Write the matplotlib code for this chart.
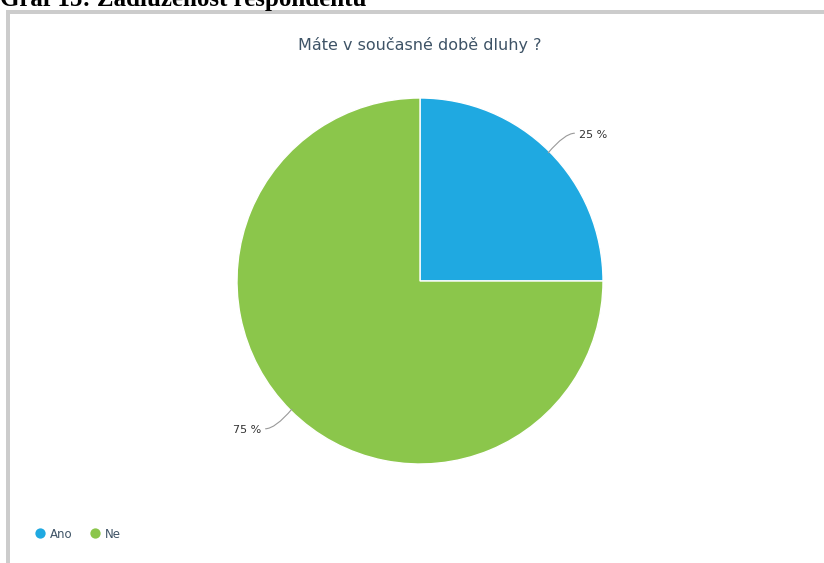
import numpy as np
import matplotlib.pyplot as plt
from matplotlib.patches import Rectangle, PathPatch
from matplotlib.path import Path

# data
labels = ['Ano', 'Ne']
values = [25, 75]
colors = ['#1fa9e1', '#8bc64b']
pct_labels = ['25 %', '75 %']

title = 'Máte v současné době dluhy ?'
caption = 'Graf 15: Zadluženost respondentů'

W, H = 824, 563
fig = plt.figure(figsize=(W / 100, H / 100), dpi=100)
ax = fig.add_axes([0, 0, 1, 1])
ax.set_xlim(0, W)
ax.set_ylim(0, H)
ax.axis('off')

# grey frame of the embedded chart (top and left border)
ax.add_patch(Rectangle((6, 549), W, 4, color='#cccccc', lw=0))
ax.add_patch(Rectangle((6, 0), 4, 553, color='#cccccc', lw=0))

# caption, cut at the top edge like in the source document
ax.text(0, 557, caption, fontsize=18, fontweight='bold', family='Liberation Serif',
        ha='left', va='baseline', color='black', clip_on=False)

cx, cy, r = 420, 282, 183
wedges, _ = ax.pie(values, colors=colors, startangle=90, counterclock=False,
                   center=(cx, cy), radius=r,
                   wedgeprops=dict(edgecolor='white', linewidth=1.0))
ax.set_xlim(0, W)
ax.set_ylim(0, H)
ax.set_aspect('auto')

ax.text(cx, H - 45, title, fontsize=11.5, color='#3e5366', ha='center', va='center',
        family='DejaVu Sans')

# outside labels with curved connectors
for w, txt in zip(wedges, pct_labels):
    ang = np.deg2rad((w.theta1 + w.theta2) / 2)
    side = np.sign(np.cos(ang))
    x0, y0 = cx + (r - 2) * np.cos(ang), cy + (r - 2) * np.sin(ang)
    x1, y1 = cx + (r + 26) * np.cos(ang), cy + (r + 26) * np.sin(ang)
    x2 = x1 + 7 * side
    verts = [(x0, y0), (x1 - 3 * side, y1), (x2, y1)]
    path = Path(verts, [Path.MOVETO, Path.CURVE3, Path.CURVE3])
    ax.add_patch(PathPatch(path, fc='none', ec='#999999', lw=0.8))
    ax.text(x2 + 4 * side, y1 - 1.5, txt, fontsize=8, color='#333333',
            ha='left' if side > 0 else 'right', va='center', family='DejaVu Sans')

# legend
lx = 40
for lab, c in zip(labels, colors):
    ax.scatter([lx], [H - 533], s=55, color=c, lw=0)
    ax.text(lx + 10, H - 534, lab, fontsize=8.5, color='#3e5366', ha='left', va='center',
            family='DejaVu Sans')
    lx += 55

fig.savefig('out.png', dpi=100)
